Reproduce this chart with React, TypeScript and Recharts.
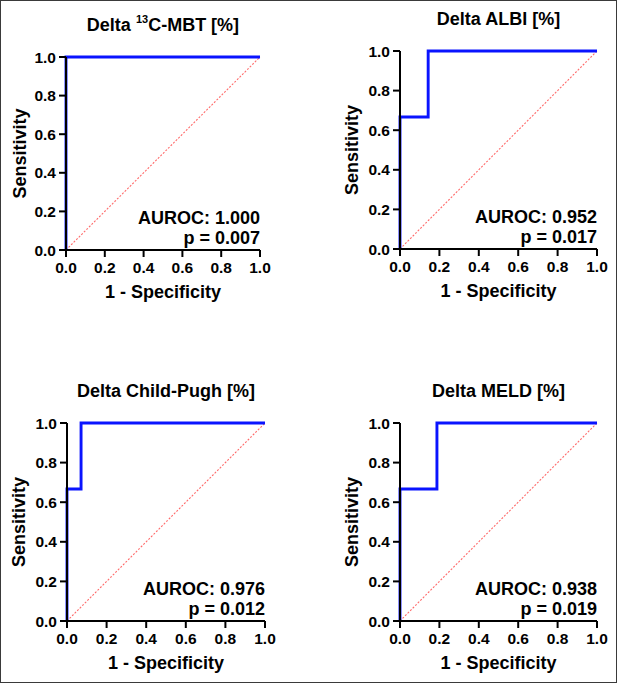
import React from 'react';
import { LineChart, Line, XAxis, YAxis, ReferenceDot } from 'recharts';

// ---- data ----
const axisTicks = [0, 0.2, 0.4, 0.6, 0.8, 1.0];
const diagFpr = [0, 1];
const diagTpr = [0, 1];

const mbtFpr = [0, 0, 1];
const mbtTpr = [0, 1, 1];

const albiFpr = [0, 0, 0.143, 0.143, 1];
const albiTpr = [0, 0.667, 0.667, 1, 1];

const cpFpr = [0, 0, 0.071, 0.071, 1];
const cpTpr = [0, 0.667, 0.667, 1, 1];

const meldFpr = [0, 0, 0.1875, 0.1875, 1];
const meldTpr = [0, 0.667, 0.667, 1, 1];

const aurocLabels = ['1.000', '0.952', '0.976', '0.938'];
const pLabels = ['0.007', '0.017', '0.012', '0.019'];

const FONT = '"Liberation Sans", Arial, Helvetica, sans-serif';

const toPoints = (xs: number[], ys: number[]) => xs.map((x, i) => ({ x, y: ys[i] }));

type PanelProps = {
  plotLeft: number;
  plotTop: number;
  plotW: number;
  plotH: number;
  fpr: number[];
  tpr: number[];
  title: React.ReactNode;
  auroc: string;
  p: string;
  yLabOffset: number;
};

const ML = 70;
const MT = 45;
const MR = 20;
const XH = 62;

const XTick = (p: any) => (
  <text x={p.x} y={p.y} dy={11.3} textAnchor="middle" fontSize={15.5} fontWeight={700} fill="#000" fontFamily={FONT}>
    {Number(p.payload.value).toFixed(1)}
  </text>
);
const YTick = (p: any) => (
  <text x={p.x} y={p.y} dy={5.6} textAnchor="end" fontSize={15.5} fontWeight={700} fill="#000" fontFamily={FONT}>
    {Number(p.payload.value).toFixed(1)}
  </text>
);

function Panel(props: PanelProps) {
  const { plotLeft, plotTop, plotW, plotH, fpr, tpr, title, auroc, p, yLabOffset } = props;
  const roc = toPoints(fpr, tpr);
  const diag = toPoints(diagFpr, diagTpr);
  const width = ML + plotW + MR;
  const height = MT + plotH + XH;

  const TitleLabel = (lp: any) => {
    const vb = lp.viewBox || {};
    return (
      <text x={vb.x} y={vb.y - 26} textAnchor="middle" fontSize={18} fontWeight={700} fill="#000" fontFamily={FONT}>
        {title}
      </text>
    );
  };
  const NoteLabel = (lp: any) => {
    const vb = lp.viewBox || {};
    return (
      <g>
        <text x={vb.x} y={vb.y - 26.5} textAnchor="end" fontSize={18} fontWeight={700} fill="#000" fontFamily={FONT}>
          {`AUROC: ${auroc}`}
        </text>
        <text x={vb.x} y={vb.y - 6.5} textAnchor="end" fontSize={18} fontWeight={700} fill="#000" fontFamily={FONT}>
          {`p = ${p}`}
        </text>
      </g>
    );
  };
  const XLab = (lp: any) => {
    const vb = lp.viewBox || {};
    return (
      <text x={vb.x + vb.width / 2} y={vb.y + 47.5} textAnchor="middle" fontSize={18} fontWeight={700} fill="#000" fontFamily={FONT}>
        1 - Specificity
      </text>
    );
  };
  const YLab = (lp: any) => {
    const vb = lp.viewBox || {};
    const cx = vb.x + vb.width - yLabOffset;
    const cy = vb.y + vb.height / 2;
    return (
      <text x={cx} y={cy} transform={`rotate(-90 ${cx} ${cy})`} textAnchor="middle" fontSize={18} fontWeight={700} fill="#000" fontFamily={FONT}>
        Sensitivity
      </text>
    );
  };

  return (
    <div style={{ position: 'absolute', left: plotLeft - ML, top: plotTop - MT, width, height }}>
      <LineChart width={width} height={height} margin={{ top: MT, right: MR, left: 0, bottom: 0 }}>
        <XAxis
          type="number"
          dataKey="x"
          domain={[0, 1]}
          ticks={axisTicks}
          height={XH}
          tickSize={7}
          tickMargin={5}
          axisLine={{ stroke: '#000', strokeWidth: 2 }}
          tickLine={{ stroke: '#000', strokeWidth: 2 }}
          tick={<XTick />}
          label={<XLab />}
          interval={0}
        />
        <YAxis
          type="number"
          dataKey="y"
          domain={[0, 1]}
          ticks={axisTicks}
          width={ML}
          tickSize={7}
          tickMargin={3}
          axisLine={{ stroke: '#000', strokeWidth: 2 }}
          tickLine={{ stroke: '#000', strokeWidth: 2 }}
          tick={<YTick />}
          label={<YLab />}
          interval={0}
        />
        <Line
          data={diag}
          dataKey="y"
          type="linear"
          stroke="#ff6a6a"
          strokeWidth={1.1}
          strokeDasharray="2 1.6"
          dot={false}
          activeDot={false}
          isAnimationActive={false}
        />
        <Line
          data={roc}
          dataKey="y"
          type="linear"
          stroke="#0a14ff"
          strokeWidth={2.9}
          dot={false}
          activeDot={false}
          isAnimationActive={false}
        />
        <ReferenceDot x={0.5} y={1} r={0} stroke="none" fill="none" label={<TitleLabel />} />
        <ReferenceDot x={1} y={0} r={0} stroke="none" fill="none" label={<NoteLabel />} />
      </LineChart>
    </div>
  );
}

export default function App() {
  return (
    <div style={{ position: 'absolute', left: 0, top: 0, width: 618, height: 687, background: '#fff', fontFamily: FONT }}>
      <div
        style={{
          position: 'absolute',
          left: 0,
          top: 0,
          width: 617,
          height: 683,
          border: '1.5px solid #3a3a3a',
          boxSizing: 'border-box',
        }}
      />
      <Panel
        plotLeft={65.5}
        plotTop={57}
        plotW={194}
        plotH={193}
        fpr={mbtFpr}
        tpr={mbtTpr}
        title={
          <>
            <tspan>Delta </tspan>
            <tspan fontSize={11} dy={-8}>13</tspan>
            <tspan dy={8}>C-MBT [%]</tspan>
          </>
        }
        auroc={aurocLabels[0]}
        p={pLabels[0]}
        yLabOffset={40}
      />
      <Panel
        plotLeft={399.5}
        plotTop={50.5}
        plotW={197}
        plotH={198}
        fpr={albiFpr}
        tpr={albiTpr}
        title="Delta ALBI [%]"
        auroc={aurocLabels[1]}
        p={pLabels[1]}
        yLabOffset={42}
      />
      <Panel
        plotLeft={67}
        plotTop={422.5}
        plotW={198}
        plotH={198}
        fpr={cpFpr}
        tpr={cpTpr}
        title="Delta Child-Pugh [%]"
        auroc={aurocLabels[2]}
        p={pLabels[2]}
        yLabOffset={42}
      />
      <Panel
        plotLeft={399.5}
        plotTop={422.5}
        plotW={197}
        plotH={198}
        fpr={meldFpr}
        tpr={meldTpr}
        title="Delta MELD [%]"
        auroc={aurocLabels[3]}
        p={pLabels[3]}
        yLabOffset={42}
      />
    </div>
  );
}
